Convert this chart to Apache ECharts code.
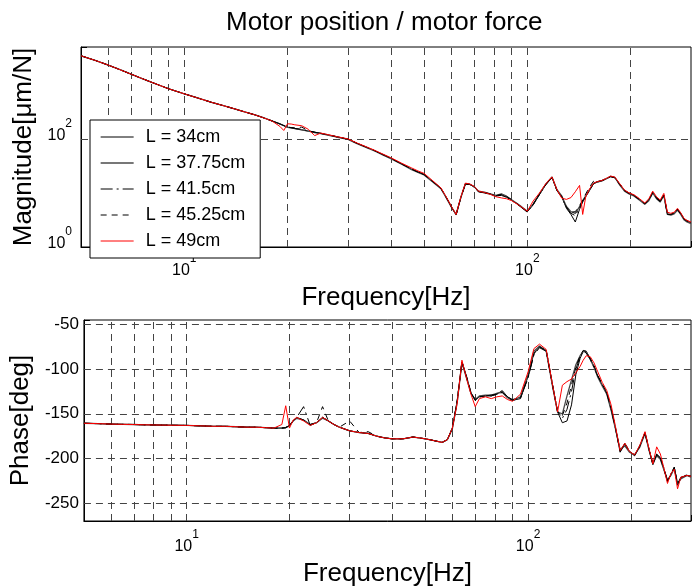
<!DOCTYPE html>
<html>
<head>
<meta charset="utf-8">
<script src="https://cdn.jsdelivr.net/npm/echarts@6/dist/echarts.min.js"></script>
<style>
html,body{margin:0;padding:0;background:#fff;}
#chart{width:694px;height:588px;}
</style>
</head>
<body>
<div id="chart"></div>
<script>
const titleText = 'Motor position / motor force';
const seriesNames = ['L = 34cm', 'L = 37.75cm', 'L = 41.5cm', 'L = 45.25cm', 'L = 49cm'];

const freq = [5, 5.5, 6, 6.5, 7, 7.5, 8, 9, 10, 11, 12, 13, 14, 15, 16, 17, 18, 19, 19.5, 20,
  20.5, 21, 22, 23, 24, 25, 26, 27, 28, 30, 32, 34, 36, 38, 40, 43, 46, 48, 50, 53,
  56, 58, 60, 62, 64, 66, 68, 70, 72, 75, 78, 81, 84, 87, 90, 95, 100, 104, 108, 113,
  118, 122, 126, 130, 134, 138, 142, 145, 148, 152, 156, 160, 165, 170, 175, 180, 186, 192, 198, 205,
  212, 220, 226, 232, 238, 244, 250, 256, 262, 268, 274, 280, 286, 292, 300];

const mag34 = [3440, 2825, 2320, 1900, 1570, 1320, 1125, 845, 681, 564, 475, 412, 360, 315, 280, 246, 215, 189, 176, 164,
  160, 155, 147, 139, 132, 126, 120, 114, 108, 99, 82, 70, 60, 51, 44, 34.4, 27.5, 24.3, 21.8, 16.2,
  12.1, 8.3, 5.6, 3.9, 8.1, 14.7, 14.3, 12.9, 10.6, 10.1, 9.5, 8.7, 9.3, 8.5, 7.4, 5.8, 4.5, 6.0, 8.9, 14.1,
  19.5, 11.2, 8.5, 5.2, 4.0, 2.9, 5.0, 6.8, 8.5, 11.2, 14.8, 15.8, 16.6, 18.2, 20, 19, 14.5, 11, 9.8, 8.9,
  7.6, 6.3, 7.4, 10.2, 8.0, 6.9, 9.2, 4.1, 4.0, 4.2, 4.9, 4.1, 3.3, 3.0, 2.8];
const mag3775 = [3440, 2825, 2320, 1900, 1570, 1320, 1125, 845, 681, 564, 475, 412, 360, 315, 280, 246, 215, 189, 176, 163,
  159, 155, 147, 139, 131, 125, 119, 113, 107, 98, 81, 69, 59, 50, 43, 34, 27, 24, 21.5, 16,
  12, 8.2, 5.5, 4.0, 8.3, 14.9, 14.5, 13.1, 10.8, 10.3, 9.6, 9.0, 9.6, 8.7, 7.5, 5.9, 4.6, 6.2, 9.1, 14.3,
  19.7, 11.5, 8.8, 5.6, 4.5, 4.2, 5.6, 7.2, 8.8, 11.6, 15.1, 16.0, 16.9, 18.5, 20.3, 19.3, 14.0, 10.8, 9.6, 8.7,
  7.4, 6.2, 7.2, 10.0, 7.8, 6.8, 9.0, 4.0, 3.9, 4.1, 4.8, 4.0, 3.2, 2.9, 2.7];
const mag415 = [3440, 2825, 2320, 1900, 1570, 1320, 1125, 845, 681, 564, 475, 412, 360, 315, 280, 246, 215, 189, 176, 165,
  161, 156, 150, 140, 133, 127, 121, 115, 109, 99, 82, 70, 60, 51, 44, 34.6, 27.8, 24.5, 22, 16.4,
  12.3, 8.4, 5.7, 4.0, 8.2, 14.6, 14.2, 12.8, 10.5, 10.0, 9.4, 8.8, 9.0, 8.3, 7.3, 5.7, 4.4, 6.2, 9.0, 14.0,
  19.3, 11.0, 8.3, 5.4, 4.2, 3.8, 5.3, 7.0, 8.7, 11.4, 15.0, 16.2, 16.8, 18.4, 20.1, 19.2, 14.8, 11.2, 10.0, 9.0,
  7.7, 6.4, 7.5, 10.4, 8.2, 7.0, 9.3, 4.2, 4.1, 4.3, 5.0, 4.2, 3.4, 3.1, 2.9];
const mag4525 = [3440, 2825, 2320, 1900, 1570, 1320, 1125, 845, 681, 564, 475, 412, 360, 315, 280, 246, 215, 189, 176, 165,
  162, 160, 165, 141, 133, 126, 120, 114, 108, 99, 82, 70, 60, 51, 44, 34.4, 27.5, 24.3, 21.8, 16.2,
  12.1, 8.3, 5.6, 3.9, 8.2, 14.8, 14.4, 13.0, 10.7, 10.2, 9.6, 8.9, 9.4, 8.6, 7.5, 5.8, 4.5, 6.1, 9.0, 14.2,
  19.6, 11.3, 8.6, 5.5, 4.4, 4.5, 5.8, 7.4, 9.6, 13.0, 16.5, 16.4, 17.0, 18.6, 20.2, 19.0, 14.2, 11.0, 9.7, 8.8,
  7.5, 6.3, 7.3, 10.1, 7.9, 6.9, 9.1, 4.0, 4.0, 4.2, 4.9, 4.1, 3.3, 3.0, 2.8];
const mag49 = [3440, 2825, 2320, 1900, 1570, 1320, 1125, 845, 681, 564, 475, 412, 360, 315, 280, 246, 215, 170, 143, 190,
  188, 182, 175, 150, 115, 128, 121, 115, 109, 100, 83, 71, 61, 52, 45, 35.5, 29, 25.5, 23, 16.8,
  12.4, 8.5, 5.7, 4.0, 8.4, 15.2, 14.6, 13.2, 10.8, 10.2, 9.4, 8.5, 8.1, 7.8, 7.2, 5.8, 4.6, 7.1, 9.6, 14.6,
  19.8, 11.5, 8.0, 7.6, 8.2, 10.5, 13.8, 4.0, 8.5, 12.0, 15.2, 16.2, 17.0, 18.6, 20.5, 19.6, 14.8, 11.3, 10.0, 9.2,
  7.9, 6.5, 7.8, 10.8, 8.5, 7.4, 9.8, 4.4, 4.2, 4.4, 5.2, 4.3, 3.4, 3.1, 2.9];

const phase34 = [-160.6, -161, -161.5, -161.8, -162, -162.3, -162.5, -162.8, -163, -163.5, -164, -164, -164.5, -165, -165, -165.5, -166, -166, -165.5, -163,
  -158, -154, -157, -162, -160, -154, -158, -162, -165, -169, -171, -172, -175, -177, -178, -178, -176, -177, -178, -180,
  -182, -179, -166, -135, -92, -108, -126, -135, -131, -130, -130, -128, -124, -131, -135, -133, -108, -82, -75, -79,
  -118, -148, -160, -158, -140, -106, -88, -80, -80, -88, -97, -108, -118, -127, -145, -165, -193, -184, -192, -197,
  -187, -171, -190, -207, -196, -200, -212, -226, -218, -210, -230, -222, -220, -219, -220];
const phase3775 = [-160.6, -161, -161.5, -161.8, -162, -162.3, -162.5, -162.8, -163, -163.5, -164, -164, -164.5, -165, -165, -165.5, -166, -166, -165.5, -163.5,
  -158, -155, -157, -162, -160, -155, -158, -162, -165, -169, -171, -172, -175, -177, -178, -178, -176, -177, -178, -180,
  -182, -179, -167, -137, -93, -110, -127, -134, -130, -129, -129, -127, -126, -132, -135, -131, -106, -80, -74, -80,
  -120, -148, -150, -130, -112, -95, -85, -80, -81, -89, -98, -109, -119, -128, -146, -166, -190, -186, -193, -196,
  -188, -172, -191, -206, -197, -201, -213, -224, -219, -211, -228, -223, -221, -219, -221];
const phase415 = [-160.6, -161, -161.5, -161.8, -162, -162.3, -162.5, -162.8, -163, -163.5, -164, -164, -164.5, -165, -165, -165.5, -166, -166, -165.5, -163,
  -158, -154, -142, -163, -160, -154, -158, -162, -165, -169, -171, -172, -175, -177, -178, -178, -176, -177, -178, -180,
  -182, -179, -166, -136, -91, -109, -127, -134, -131, -130, -129, -128, -125, -131, -134, -132, -110, -84, -76, -80,
  -119, -147, -155, -145, -125, -100, -86, -80, -82, -89, -98, -108, -117, -127, -144, -164, -192, -183, -191, -197,
  -186, -172, -189, -207, -195, -199, -211, -225, -217, -210, -229, -221, -220, -218, -220];
const phase4525 = [-160.6, -161, -161.5, -161.8, -162, -162.3, -162.5, -162.8, -163, -163.5, -164, -164, -164.5, -165, -165, -165.5, -166, -166, -165.5, -163,
  -158, -154, -157, -162, -160, -142, -158, -162, -165, -158, -171, -170, -175, -177, -178, -178, -176, -177, -178, -180,
  -182, -179, -166, -135, -92, -108, -126, -135, -131, -130, -130, -128, -126, -131, -135, -132, -109, -83, -75, -79,
  -118, -148, -152, -138, -118, -98, -85, -79, -80, -88, -96, -107, -117, -126, -144, -165, -192, -184, -192, -196,
  -187, -171, -190, -206, -196, -200, -212, -225, -218, -210, -229, -222, -220, -219, -220];
const phase49 = [-160.6, -161, -161.5, -161.8, -162, -162.3, -162.5, -162.8, -163, -163.5, -164, -164, -164.5, -165, -165, -165.5, -166, -162, -141, -166,
  -157, -154, -158, -163, -160, -154, -158, -162, -165, -169, -171, -172, -175, -177, -178, -178, -176, -177, -178, -180,
  -182, -179, -166, -138, -90, -110, -128, -142, -133, -131, -133, -131, -130, -134, -136, -128, -103, -77, -72, -78,
  -118, -148, -118, -114, -111, -104, -97, -90, -85, -86, -93, -103, -115, -124, -140, -163, -191, -183, -192, -196,
  -186, -170, -189, -206, -187, -195, -211, -228, -217, -212, -234, -221, -220, -219, -220];

const xGridVals = [6, 7, 8, 9, 10, 20, 30, 40, 50, 60, 70, 80, 90, 100, 200];
const magGridVals = [100];
const phaseGridVals = [-50, -100, -150, -200, -250];

const magSets = [mag34, mag3775, mag415, mag4525, mag49];
const phaseSets = [phase34, phase3775, phase415, phase4525, phase49];

const FONT = "'Liberation Sans', Arial, Helvetica, sans-serif";
const styles = [
  {color: '#000000', width: 1, type: 'solid'},
  {color: '#4a4a4a', width: 1.3, type: 'solid'},
  {color: '#000000', width: 1, type: [12, 4, 2, 4]},
  {color: '#000000', width: 1, type: [6, 5]},
  {color: '#ff0000', width: 1, type: 'solid'}
];
const gridLineStyle = {color: '#444', width: 1, type: [7, 5]};

function powLabel(v) {
  const e = Math.log10(v);
  const r = Math.round(e);
  if (Math.abs(e - r) > 1e-6) return '';
  return '{b|10}{s|' + r + '}';
}
const powRich = {
  b: {fontSize: 16, fontFamily: FONT, color: '#000', lineHeight: 26, verticalAlign: 'bottom'},
  s: {fontSize: 12, fontFamily: FONT, color: '#000', lineHeight: 12, verticalAlign: 'top'}
};

function buildSeries(sets, gridIdx, gridMarks) {
  return sets.map((vals, k) => {
    const s = {
      name: seriesNames[k],
      type: 'line',
      xAxisIndex: gridIdx,
      yAxisIndex: gridIdx,
      data: freq.map((f, i) => [f, vals[i]]),
      symbol: 'none',
      showSymbol: false,
      lineStyle: styles[k],
      itemStyle: {color: styles[k].color},
      z: 3 + k,
      animation: false,
      emphasis: {disabled: true}
    };
    if (k === 0) {
      s.markLine = {
        silent: true,
        z: 1,
        symbol: ['none', 'none'],
        label: {show: false},
        lineStyle: gridLineStyle,
        animation: false,
        emphasis: {disabled: true},
        data: gridMarks
      };
    }
    return s;
  });
}

const magMarks = xGridVals.map(v => ({xAxis: v})).concat(magGridVals.map(v => ({yAxis: v})));
const phaseMarks = xGridVals.map(v => ({xAxis: v})).concat(phaseGridVals.map(v => ({yAxis: v})));

const chart = echarts.init(document.getElementById('chart'), null, {renderer: 'canvas'});
const xAxisCommon = {
  type: 'log',
  logBase: 10,
  min: 5,
  max: 300,
  name: 'Frequency[Hz]',
  nameLocation: 'middle',
  nameTextStyle: {fontSize: 26, fontFamily: FONT, color: '#000'},
  axisLine: {show: true, lineStyle: {color: '#000', width: 1}},
  axisTick: {show: true, inside: true, length: 6, lineStyle: {color: '#000'}},
  splitLine: {show: false}
};

chart.setOption({
  animation: false,
  backgroundColor: '#fff',
  title: {
    text: titleText,
    left: 221,
    top: 5,
    textStyle: {fontSize: 26, fontWeight: 'normal', fontFamily: FONT, color: '#000'}
  },
  legend: {
    data: seriesNames.map((n, k) => ({name: n, lineStyle: {width: styles[k].width, color: styles[k].color, type: styles[k].type}})),
    orient: 'vertical',
    left: 90,
    top: 120,
    padding: [8, 15, 8, 10],
    itemWidth: 33,
    itemHeight: 14,
    itemGap: 8,
    backgroundColor: '#fff',
    borderColor: '#000',
    borderWidth: 1,
    itemStyle: {opacity: 0, borderWidth: 0},
    textStyle: {fontSize: 18, fontFamily: FONT, color: '#000', padding: [0, 0, 0, 7]},
    selectedMode: false
  },
  grid: [
    {left: 81, right: -7, top: 47, height: 200, show: true, borderColor: '#000', borderWidth: 1, backgroundColor: 'transparent'},
    {left: 81, right: -7, top: 320, height: 201, show: true, borderColor: '#000', borderWidth: 1, backgroundColor: 'transparent'}
  ],
  xAxis: [
    Object.assign({}, xAxisCommon, {gridIndex: 0, nameGap: 38, axisLabel: {formatter: powLabel, rich: powRich, margin: 6}}),
    Object.assign({}, xAxisCommon, {gridIndex: 1, nameGap: 40, axisLabel: {formatter: powLabel, rich: powRich, margin: 8}})
  ],
  yAxis: [
    {
      gridIndex: 0,
      type: 'log',
      logBase: 100,
      min: 1,
      max: 5000,
      name: 'Magnitude[μm/N]',
      nameLocation: 'middle',
      nameGap: 35,
      nameTextStyle: {fontSize: 26, fontFamily: FONT, color: '#000'},
      axisLine: {show: true, lineStyle: {color: '#000', width: 1}},
      axisTick: {show: true, inside: true, length: 6, lineStyle: {color: '#000'}},
      splitLine: {show: false},
      axisLabel: {formatter: powLabel, rich: powRich, margin: 9, padding: [0, 0, 16, 0]}
    },
    {
      gridIndex: 1,
      type: 'value',
      min: -270,
      max: -45,
      name: 'Phase[deg]',
      nameLocation: 'middle',
      nameGap: 46,
      nameTextStyle: {fontSize: 26, fontFamily: FONT, color: '#000'},
      axisLine: {show: true, lineStyle: {color: '#000', width: 1}},
      axisTick: {show: true, inside: true, length: 6, lineStyle: {color: '#000'}},
      splitLine: {show: false},
      axisLabel: {
        margin: 5,
        fontSize: 17,
        fontFamily: FONT,
        color: '#000',
        formatter: v => (Math.abs(v % 50) < 1e-9 ? String(v) : '')
      }
    }
  ],
  series: buildSeries(magSets, 0, magMarks).concat(buildSeries(phaseSets, 1, phaseMarks))
});
</script>
</body>
</html>
